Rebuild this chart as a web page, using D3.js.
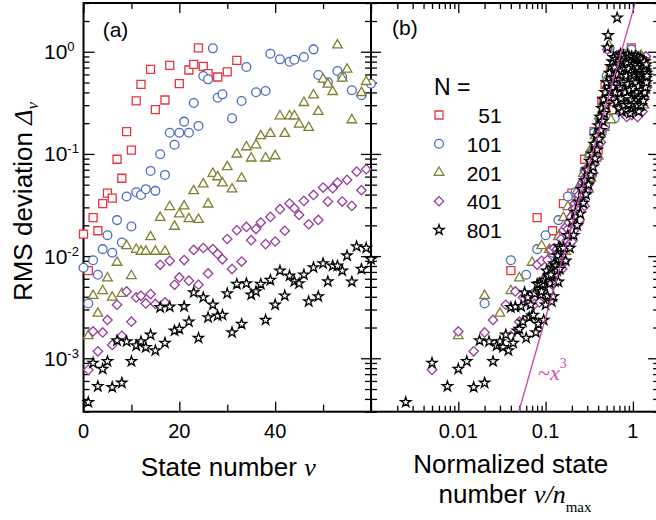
<!DOCTYPE html>
<html>
<head>
<meta charset="utf-8">
<title>RMS deviation vs state number</title>
<script src="https://d3js.org/d3.v7.min.js"></script>
<style>
  body { margin: 0; background: #fff; }
  text { font-family: "Liberation Sans", Arial, sans-serif; fill: #000; }
  .serif { font-family: "Liberation Serif", "Times New Roman", serif; }
</style>
</head>
<body>
<svg width="656" height="520"></svg>
<script>
// ---- values ----
const sizesN = [51, 101, 201, 401, 801];
const nMax = [25, 50, 100, 200, 400];

const nu51 = [0,1,2,3,4,5,6,7,8,9,10,11,12,14,15,17,18,20,22,23,24,25,26,28,30,32];
const rms51 = [0.0164,0.0072,0.0238,0.0177,0.0327,0.0413,0.0369,0.0887,0.0578,0.165,0.109,0.33,0.48,
  0.673,0.271,0.337,0.736,0.487,0.663,0.753,1.09,0.72,0.61,0.566,0.634,0.824];

const nu101 = d3.range(0, 30).concat([31,33,34,36,38,39,41,43,44,46,48,49,51,53,54,56,58,60]);
const rms101 = [0.0077,0.00344,0.0091,0.00656,0.0117,0.016,0.0108,0.0225,0.0136,0.0383,
  0.0195,0.0422,0.0397,0.0452,0.0682,0.0435,0.0993,0.0623,0.161,0.123,
  0.161,0.207,0.161,0.315,0.188,0.578,0.537,1.08,0.355,0.383,
  0.223,0.33,0.709,0.401,0.413,0.955,0.843,0.798,0.835,0.887,
  1.055,0.592,0.502,0.648,0.566,0.42,0.375,0.487];

const nu201 = d3.range(1, 57).concat([58, 59]);
const rms201 = [0.00166,0.0041,0.00275,0.00458,0.0061,0.00394,0.00866,0.0043,0.0126,0.00642,
  0.0116,0.0111,0.0111,0.0154,0.0111,0.0238,0.0111,0.0304,0.0195,0.0258,
  0.0308,0.0231,0.0435,0.0228,0.0506,0.0322,0.0642,0.0595,0.0517,0.0746,
  0.0452,0.0993,0.0578,0.117,0.0908,0.122,0.15,0.0908,0.158,0.0955,
  0.235,0.158,0.235,0.235,0.195,0.317,0.181,0.377,0.259,0.537,
  0.48,0.406,1.16,0.55,0.673,0.215,0.397,0.509];

const nu401 = d3.range(1, 60);
const rms401 = [0.00077,0.00183,0.00117,0.00179,0.00237,0.00135,0.00334,0.00166,0.00451,0.00228,
  0.00394,0.00409,0.00344,0.00425,0.0034,0.00822,0.00352,0.009,0.00524,0.00618,
  0.00914,0.00574,0.0115,0.00524,0.012,0.00676,0.0117,0.0105,0.0093,0.0147,
  0.00746,0.0179,0.00885,0.0193,0.0143,0.0184,0.0213,0.0131,0.0242,0.0139,
  0.0288,0.0177,0.0327,0.0294,0.0253,0.0347,0.0205,0.0397,0.0226,0.0469,
  0.0342,0.0462,0.0525,0.0342,0.0557,0.031,0.0671,0.0442,0.0708];

const nu801 = d3.range(1, 61);
const rms801 = [0.000371,0.0009,0.000531,0.000785,0.000933,0.00052,0.00149,0.000574,0.00146,0.000933,
  0.00133,0.00146,0.00128,0.0017,0.00119,0.00315,0.00141,0.00319,0.00186,0.00193,
  0.00322,0.00228,0.00441,0.00158,0.00394,0.00251,0.00334,0.00261,0.00265,0.0043,
  0.00179,0.00532,0.00216,0.0054,0.00419,0.00451,0.00532,0.00237,0.00582,0.00334,
  0.00718,0.00409,0.00642,0.00565,0.0054,0.00656,0.0036,0.00774,0.00403,0.00847,
  0.00565,0.00803,0.00803,0.00718,0.0101,0.0056,0.0124,0.00746,0.012,0.0093];

// higher states, only visible in panel (b) (estimated from the dense band)
const nu201b = d3.range(60, 145, 2);
const rms201b = [0.62,0.45,0.8,0.35,0.7,0.9,0.4,0.27,0.6,0.85,
  0.32,0.5,0.75,0.25,0.95,0.42,0.66,0.3,0.82,0.55,
  0.38,0.72,0.26,0.9,0.48,0.64,0.33,0.86,0.44,0.7,
  0.28,0.58,0.92,0.36,0.62,0.5,0.8,0.3,0.68,0.42,
  0.88,0.52,0.6];

const nu401b = d3.range(62, 291, 4);
const rms401b = [0.05,0.085,0.065,0.12,0.09,0.17,0.13,0.24,0.18,0.33,
  1.05,0.45,0.35,0.58,0.44,0.75,0.52,0.92,0.4,0.68,
  0.28,0.85,0.5,0.25,0.7,0.9,0.36,0.23,0.6,0.8,
  0.3,0.45,0.88,0.24,0.65,0.4,0.82,0.28,0.55,0.92,
  0.35,0.23,0.72,0.48,0.86,0.3,0.62,0.42,0.78,0.26,
  0.56,0.7,0.36,0.84,0.5,0.9,0.66,0.45];

const nu801b = d3.range(64, 581, 4);
const rms801b = [0.012,0.009,0.016,0.012,0.022,0.016,0.027,0.02,0.034,0.026,
  0.045,0.033,0.055,0.04,0.07,0.05,0.085,0.062,0.1,0.075,
  0.125,0.09,0.15,0.11,0.19,0.14,0.23,0.17,0.28,0.21,
  0.34,0.25,0.4,0.3,0.5,1.1,1.45,0.36,0.62,0.42,
  0.72,0.5,0.8,0.45,0.88,0.55,0.7,0.4,0.85,0.32,
  2.15,0.6,0.9,0.28,0.75,0.45,0.95,0.35,0.65,0.26,
  0.82,0.5,0.92,0.3,0.7,0.4,0.86,0.27,0.58,0.78,
  0.36,0.93,0.48,0.3,0.68,0.88,0.42,0.25,0.62,0.8,
  0.34,0.9,0.52,0.28,0.72,0.44,0.85,0.31,0.6,0.76,
  0.38,0.9,0.5,0.27,0.66,0.83,0.4,0.3,0.7,0.88,
  0.46,0.26,0.58,0.8,0.35,0.64,0.86,0.42,0.3,0.74,
  0.55,0.84,0.37,0.62,0.48,0.78,0.33,0.68,0.52,0.8,
  0.4,0.6,0.7,0.45,0.65,0.55,0.75,0.5,0.62,0.58];

const yMajor = [1e-3, 1e-2, 1e-1, 1];
const yLabelExp = ["-3", "-2", "-1", "0"];
const xaMajor = [0, 20, 40, 60];
const xaMinor = [10, 30, 50];
const xaLabels = ["0", "20", "40"];
const xbMajor = [0.01, 0.1, 1];
const xbLabels = ["0.01", "0.1", "1"];
const fitCoef = 2.5, fitPow = 3;

// ---- layout ----
const svg = d3.select("svg");
const yTop = 3, yBot = 411.7, xL = 83.5, xM = 371, decB = 87.3;
const xR = xM + decB * Math.log10(2000);

const y = d3.scaleLog().domain([3e-4, 3]).range([yBot, yTop]);
const xa = d3.scaleLinear().domain([0, 60]).range([xL, xM]);
const xb = d3.scaleLog().domain([1e-3, 2]).range([xM, xR]);

const yMinor = [];
[1e-4, 1e-3, 1e-2, 1e-1, 1].forEach(d => {
  for (let k = 2; k <= 9; k++) { const v = k * d; if (v >= 3e-4 && v <= 3) yMinor.push(v); }
});
const xbMinor = [];
[1e-3, 1e-2, 1e-1, 1].forEach(d => {
  for (let k = 2; k <= 9; k++) { const v = k * d; if (v <= 2) xbMinor.push(v); }
});

function tickSet(axis, scale, values, size, tx, ty) {
  svg.append("g")
    .attr("transform", `translate(${tx},${ty})`)
    .call(axis(scale).tickValues(values).tickSize(size).tickFormat(""))
    .call(g => g.select(".domain").remove())
    .selectAll("line").attr("stroke", "#000").attr("stroke-width", 1.3);
}

// panel (a) ticks
tickSet(d3.axisLeft, y, yMajor, -11, xL, 0);
tickSet(d3.axisLeft, y, yMinor, -6, xL, 0);
tickSet(d3.axisRight, y, yMajor, -10, xM, 0);
tickSet(d3.axisRight, y, yMinor, -6, xM, 0);
tickSet(d3.axisBottom, xa, xaMajor, -10, 0, yBot);
tickSet(d3.axisBottom, xa, xaMinor, -7, 0, yBot);
tickSet(d3.axisTop, xa, xaMajor, -10, 0, yTop);
tickSet(d3.axisTop, xa, xaMinor, -6, 0, yTop);
// panel (b) ticks
tickSet(d3.axisLeft, y, yMajor, -10, xM, 0);
tickSet(d3.axisLeft, y, yMinor, -6, xM, 0);
tickSet(d3.axisRight, y, yMajor, -11, xR, 0);
tickSet(d3.axisRight, y, yMinor, -6, xR, 0);
tickSet(d3.axisBottom, xb, xbMajor, -10, 0, yBot);
tickSet(d3.axisBottom, xb, xbMinor, -6, 0, yBot);
tickSet(d3.axisTop, xb, xbMajor, -10, 0, yTop);
tickSet(d3.axisTop, xb, xbMinor, -6, 0, yTop);

// frames
svg.append("rect").attr("x", xL).attr("y", yTop).attr("width", xM - xL).attr("height", yBot - yTop)
  .attr("fill", "none").attr("stroke", "#000").attr("stroke-width", 2);
svg.append("rect").attr("x", xM).attr("y", yTop).attr("width", xR - xM).attr("height", yBot - yTop)
  .attr("fill", "none").attr("stroke", "#000").attr("stroke-width", 2);

// tick labels
yMajor.forEach((v, i) => {
  const t = svg.append("text").attr("x", 44).attr("y", y(v) + 7.5).attr("font-size", 21).text("10");
  t.append("tspan").attr("dy", -8).attr("font-size", 13).text(yLabelExp[i]);
});
xaLabels.forEach((s, i) => {
  svg.append("text").attr("x", xa(xaMajor[i])).attr("y", 438.3).attr("text-anchor", "middle")
    .attr("font-size", 20).text(s);
});
xbLabels.forEach((s, i) => {
  svg.append("text").attr("x", xb(xbMajor[i])).attr("y", 438.3).attr("text-anchor", "middle")
    .attr("font-size", 20).text(s);
});

// axis titles
const yt = svg.append("text").attr("transform", "translate(32,201.5) rotate(-90)")
  .attr("text-anchor", "middle").attr("font-size", 26).text("RMS deviation ");
yt.append("tspan").attr("class", "serif").attr("font-style", "italic").text("\u0394");
yt.append("tspan").attr("class", "serif").attr("font-style", "italic").attr("font-size", 17)
  .attr("dy", 6).text("\u03bd");

const xta = svg.append("text").attr("x", 228.3).attr("y", 476).attr("text-anchor", "middle")
  .attr("font-size", 26).text("State number ");
xta.append("tspan").attr("class", "serif").attr("font-style", "italic").text("\u03bd");

svg.append("text").attr("x", 510.8).attr("y", 472.7).attr("text-anchor", "middle")
  .attr("font-size", 26).text("Normalized state");
const xtb = svg.append("text").attr("x", 515).attr("y", 503.3).attr("text-anchor", "middle")
  .attr("font-size", 26).text("number ");
xtb.append("tspan").attr("class", "serif").attr("font-style", "italic").text("\u03bd/n");
xtb.append("tspan").attr("class", "serif").attr("font-size", 15).attr("dy", 9).text("max");

svg.append("text").attr("x", 102.7).attr("y", 36.7).attr("font-size", 21).text("(a)");
svg.append("text").attr("x", 392).attr("y", 35).attr("font-size", 21).text("(b)");

// ---- markers ----
const shapes = {
  square: d3.symbol(d3.symbolSquare, 64)(),
  circle: d3.symbol(d3.symbolCircle, 60)(),
  triangle: d3.symbol(d3.symbolTriangle, 40)(),
  diamond: d3.symbol(d3.symbolSquare, 44)(),
  star: d3.symbol(d3.symbolStar, 32)()
};
const series = [
  { nu: nu51, rms: rms51, nuB: [], rmsB: [], shape: "square", color: "#e8343c" },
  { nu: nu101, rms: rms101, nuB: [], rmsB: [], shape: "circle", color: "#4a6cc0" },
  { nu: nu201, rms: rms201, nuB: nu201b, rmsB: rms201b, shape: "triangle", color: "#7f7f2e" },
  { nu: nu401, rms: rms401, nuB: nu401b, rmsB: rms401b, shape: "diamond", color: "#963c9c" },
  { nu: nu801, rms: rms801, nuB: nu801b, rmsB: rms801b, shape: "star", color: "#000" }
];

function marker(g, shape, color, px, py) {
  g.append("path").attr("d", shapes[shape])
    .attr("transform", `translate(${px},${py})` + (shape === "diamond" ? " rotate(45)" : ""))
    .attr("fill", "#fff").attr("stroke", color).attr("stroke-width", 1.3);
}

const gA = svg.append("g"), gB = svg.append("g");
series.forEach((s, i) => {
  s.nu.forEach((n, j) => marker(gA, s.shape, s.color, xa(n), y(s.rms[j])));
});
series.forEach((s, i) => {
  const nus = s.nu.concat(s.nuB), vals = s.rms.concat(s.rmsB);
  nus.forEach((n, j) => {
    if (n > 0) marker(gB, s.shape, s.color, xb(n / nMax[i]), y(vals[j]));
  });
});

// ~x^3 guide line
const fitX0 = Math.pow(3e-4 / fitCoef, 1 / fitPow), fitX1 = Math.pow(3 / fitCoef, 1 / fitPow);
svg.append("line")
  .attr("x1", xb(fitX0)).attr("y1", y(fitCoef * Math.pow(fitX0, fitPow)))
  .attr("x2", xb(fitX1)).attr("y2", y(fitCoef * Math.pow(fitX1, fitPow)))
  .attr("stroke", "#c346ad").attr("stroke-width", 1.3);
const fl = svg.append("text").attr("x", 538).attr("y", 380).attr("class", "serif")
  .attr("font-size", 22).style("fill", "#d04ea8").text("~");
fl.append("tspan").attr("font-style", "italic").text("x");
fl.append("tspan").attr("font-size", 14).attr("dy", -12).text("3");

// legend
svg.append("text").attr("x", 434).attr("y", 95).attr("font-size", 23).text("N =");
series.forEach((s, i) => {
  const ry = 115 + i * 28.75;
  marker(svg, s.shape, s.color, 439, ry);
  svg.append("text").attr("x", 501.7).attr("y", ry + 8).attr("text-anchor", "end")
    .attr("font-size", 21).text(sizesN[i]);
});
</script>
</body>
</html>
